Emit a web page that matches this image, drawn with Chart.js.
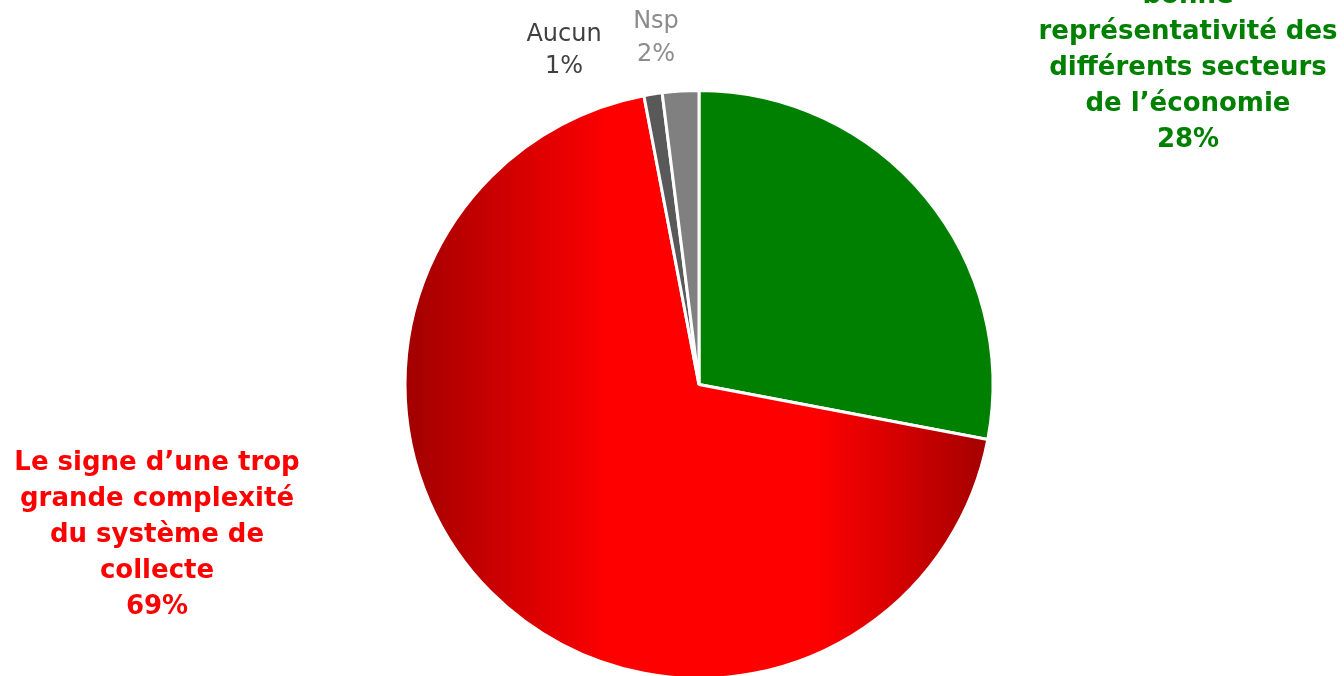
<!DOCTYPE html>
<html>
<head>
<meta charset="utf-8">
<script src="https://cdn.jsdelivr.net/npm/chart.js@4.4.0/dist/chart.umd.min.js"></script>
<style>
  html, body { margin: 0; padding: 0; background: #fff; overflow: hidden; }
  #wrap { width: 1344px; height: 682px; }
</style>
</head>
<body>
<div id="wrap"><canvas id="pie" width="1344" height="682"></canvas></div>
<script>
const categories = [
    "Le signe d’une bonne représentativité des différents secteurs de l’économie",
    "Le signe d’une trop grande complexité du système de collecte",
    "Aucun",
    "Nsp"
];
const values = [28, 69, 1, 2];
const sliceColors = ['#008000', 'red', '#595959', '#808080'];

// label lines as wrapped in the picture
const labelLines = [
    ["Le signe d’une", "bonne", "représentativité des", "différents secteurs", "de l’économie"],
    ["Le signe d’une trop", "grande complexité", "du système de", "collecte"],
    ["Aucun"],
    ["Nsp"]
];

const labelPos = [
    {x: 1188, y: 140, color: '#008000', font: 'bold 26px "DejaVu Sans"', lh: 36},
    {x: 157, y: 607, color: '#ff0000', font: 'bold 26px "DejaVu Sans"', lh: 36},
    {x: 564, y: 67, color: '#404040', font: '24px "DejaVu Sans"', lh: 32},
    {x: 656, y: 55, color: '#8c8c8c', font: '24px "DejaVu Sans"', lh: 33}
];

function redShade(context) {
    const chart = context.chart;
    const a = chart.chartArea;
    if (!a) return 'red';
    const cx = (a.left + a.right) / 2;
    const r = (a.bottom - a.top) / 2;
    const g = chart.ctx.createLinearGradient(cx - r, 0, cx + r, 0);
    g.addColorStop(0, '#a00000');
    g.addColorStop(0.35, '#ff0000');
    g.addColorStop(0.7, '#ff0000');
    g.addColorStop(1, '#a00000');
    return g;
}

const outsideLabels = {
    id: 'outsideLabels',
    afterDraw(chart) {
        const ctx = chart.ctx;
        ctx.save();
        ctx.textAlign = 'center';
        ctx.textBaseline = 'middle';
        labelPos.forEach((p, i) => {
            const lines = labelLines[i].concat([values[i] + '%']);
            ctx.font = p.font;
            ctx.fillStyle = p.color;
            const n = lines.length;
            lines.forEach((t, k) => {
                ctx.fillText(t, p.x, p.y - (n - 1 - k) * p.lh);
            });
        });
        ctx.restore();
    }
};

const ctx = document.getElementById("pie");
const myChart = new Chart(ctx, {
    type: 'pie',
    data: {
        labels: categories,
        datasets: [{
            data: values,
            backgroundColor: function(c) {
                if (c.dataIndex === 1) return redShade(c);
                return sliceColors[c.dataIndex];
            },
            borderColor: '#ffffff',
            borderWidth: 3,
            hoverOffset: 0
        }]
    },
    options: {
        responsive: false,
        animation: false,
        layout: { padding: { top: 89, bottom: 2, left: 54, right: 0 } },
        plugins: {
            legend: { display: false },
            tooltip: { enabled: false }
        }
    },
    plugins: [outsideLabels]
});
</script>
</body>
</html>
